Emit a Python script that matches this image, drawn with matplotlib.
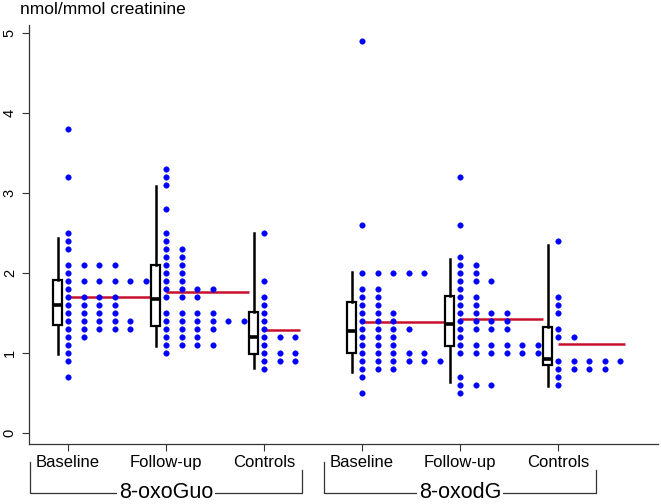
import matplotlib
matplotlib.use("Agg")
import matplotlib.pyplot as plt
import matplotlib.transforms as mtransforms
import numpy as np

plt.rcParams['font.family'] = ['Liberation Sans', 'DejaVu Sans']

# ---------------- data ----------------
group_labels = ["Baseline", "Follow-up", "Controls", "Baseline", "Follow-up", "Controls"]
analytes = ["8-oxoGuo", "8-oxodG"]

# dot plot: value levels and number of dots at each level
guo_base_vals = [3.8, 3.2, 2.5, 2.4, 2.3, 2.1, 2.0, 1.9, 1.8, 1.7, 1.6, 1.5, 1.4, 1.3, 1.2, 1.1, 1.0, 0.9, 0.7]
guo_base_cnts = [1, 1, 1, 1, 1, 4, 1, 6, 1, 4, 4, 4, 5, 5, 2, 1, 1, 1, 1]

guo_fu_vals = [3.3, 3.2, 3.1, 2.8, 2.5, 2.4, 2.3, 2.2, 2.1, 2.0, 1.9, 1.8, 1.7, 1.5, 1.4, 1.3, 1.2, 1.1, 1.0]
guo_fu_cnts = [1, 1, 1, 1, 1, 1, 2, 2, 2, 2, 2, 4, 3, 4, 6, 4, 3, 4, 1]

guo_ctrl_vals = [2.5, 1.9, 1.7, 1.6, 1.5, 1.4, 1.3, 1.2, 1.1, 1.0, 0.9, 0.8]
guo_ctrl_cnts = [1, 1, 1, 1, 1, 1, 1, 3, 1, 3, 3, 1]

dg_base_vals = [4.9, 2.6, 2.0, 1.8, 1.7, 1.6, 1.5, 1.4, 1.3, 1.2, 1.1, 1.0, 0.9, 0.8, 0.7, 0.5]
dg_base_cnts = [1, 1, 5, 2, 2, 2, 3, 3, 4, 3, 3, 5, 6, 3, 1, 1]

dg_fu_vals = [3.2, 2.6, 2.2, 2.1, 2.0, 1.9, 1.8, 1.7, 1.6, 1.5, 1.4, 1.3, 1.2, 1.1, 1.0, 0.7, 0.6, 0.5]
dg_fu_cnts = [1, 1, 1, 2, 2, 3, 1, 2, 2, 4, 4, 4, 1, 6, 6, 1, 3, 1]

dg_ctrl_vals = [2.4, 1.7, 1.6, 1.5, 1.3, 1.2, 0.9, 0.8, 0.7, 0.6]
dg_ctrl_cnts = [1, 1, 1, 1, 1, 2, 5, 4, 1, 1]

# box plot summaries
box_q1 = [1.35, 1.34, 0.99, 1.00, 1.09, 0.845]
box_med = [1.595, 1.67, 1.195, 1.275, 1.36, 0.92]
box_q3 = [1.91, 2.10, 1.51, 1.635, 1.71, 1.32]
box_lo = [0.99, 1.09, 0.805, 0.765, 0.63, 0.59]
box_hi = [2.44, 3.09, 2.50, 2.01, 2.17, 2.35]

dot_vals = [guo_base_vals, guo_fu_vals, guo_ctrl_vals, dg_base_vals, dg_fu_vals, dg_ctrl_vals]
dot_cnts = [guo_base_cnts, guo_fu_cnts, guo_ctrl_cnts, dg_base_cnts, dg_fu_cnts, dg_ctrl_cnts]

# ---------------- figure ----------------
fig = plt.figure(figsize=(6.61, 5.04), dpi=100)
ax = fig.add_axes([0.0443, 0.119, 0.9512, 0.8314])

positions = np.arange(1, len(group_labels) + 1)
dx = 0.159        # horizontal spacing of dots
box_off = -0.105  # box to the left of the dots
blue = "#0000FF"
red = "#C8102E"

for pos, vals, cnts in zip(positions, dot_vals, dot_cnts):
    xs, ys = [], []
    for v, c in zip(vals, cnts):
        for k in range(c):
            xs.append(pos + k * dx)
            ys.append(v)
    ax.plot(xs, ys, linestyle="none", marker="o", markersize=4.0,
            markerfacecolor=blue, markeredgecolor=blue, markeredgewidth=0.3, zorder=4)
    mean = np.sum(np.array(vals) * np.array(cnts)) / np.sum(cnts)
    xend = pos + (max(cnts) - 1) * dx + 0.05
    ax.plot([pos, xend], [mean, mean], color=red, linewidth=1.8, zorder=3,
            solid_capstyle="butt")

stats = []
for i in range(len(positions)):
    stats.append(dict(med=box_med[i], q1=box_q1[i], q3=box_q3[i],
                      whislo=box_lo[i], whishi=box_hi[i], fliers=[]))
ax.bxp(stats, positions=positions + box_off, widths=0.088, showfliers=False,
       showcaps=False, patch_artist=True,
       boxprops=dict(facecolor="white", edgecolor="black", linewidth=1.6),
       medianprops=dict(color="black", linewidth=2.6),
       whiskerprops=dict(color="black", linewidth=1.8),
       manage_ticks=False, zorder=5)

ax.set_xlim(0.605, 7.02)
ax.set_ylim(-0.142, 5.104)
ax.set_xticks(positions)
ax.set_xticklabels(group_labels, fontsize=12)
ax.set_yticks([0, 1, 2, 3, 4, 5])
ax.set_yticklabels(["0", "1", "2", "3", "4", "5"], fontsize=10.5,
                   rotation=90, va="center")
ax.tick_params(axis="both", direction="out", length=5, width=0.8, color="#333333")
ax.tick_params(axis="y", pad=4)
ax.tick_params(axis="x", pad=3)
for s in ["top", "right"]:
    ax.spines[s].set_visible(False)
for s in ["left", "bottom"]:
    ax.spines[s].set_linewidth(0.9)
    ax.spines[s].set_color("#333333")

fig.text(20 / 661, 1 - 10 / 504, "nmol/mmol creatinine", ha="left", va="center",
         fontsize=12.5)

# group brackets
trans = mtransforms.blended_transform_factory(ax.transData, fig.transFigure)
y_line = 1 - 492.7 / 504
y_left_top = 1 - 461.7 / 504
y_right_top = 1 - 470 / 504
for gi, name in enumerate(analytes):
    first = positions[gi * 3]
    last = positions[gi * 3 + 2]
    xl = first - 0.385
    xr = last + 0.385
    ax.plot([xl, xl, xr, xr], [y_left_top, y_line, y_line, y_right_top],
            color="#333333", linewidth=0.9, transform=trans, clip_on=False)
    ax.text((xl + xr) / 2, y_line, name, transform=trans, ha="center", va="center",
            fontsize=15.5,
            bbox=dict(facecolor="white", edgecolor="none", pad=1.5))

fig.savefig("out.png", dpi=100)
